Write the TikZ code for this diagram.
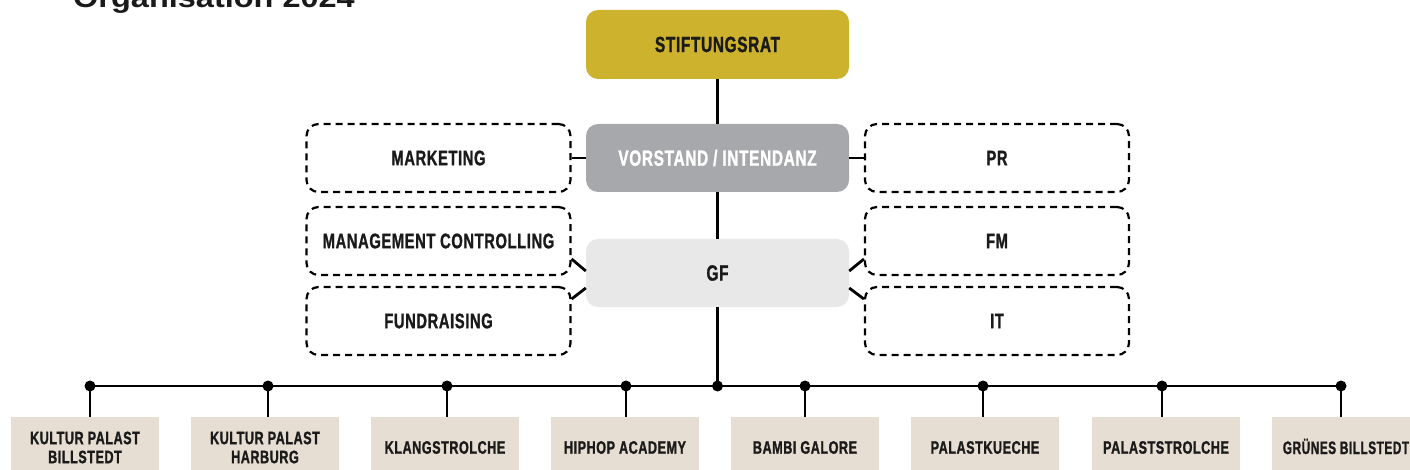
\documentclass[tikz,border=0pt]{standalone}
\usepackage{fontspec}
\newfontfamily\labelfont[FakeStretch=0.70,FakeBold=1.2,LetterSpace=3]{Liberation Sans}
\newfontfamily\titlefont{Liberation Sans}
\definecolor{goldbox}{HTML}{CDB22E}
\definecolor{greybox}{HTML}{A7A8AB}
\definecolor{lightbox}{HTML}{E8E8E8}
\definecolor{beigebox}{HTML}{E6DED2}
\definecolor{textdark}{HTML}{1A1A1A}
\begin{document}
\begin{tikzpicture}[x=1pt,y=-1pt,
  boxbase/.style={rounded corners=12pt, minimum width=263pt, minimum height=68pt, inner sep=0pt,
    font=\labelfont\bfseries\fontsize{22}{24}\selectfont, text=textdark},
  goldnode/.style={boxbase, fill=goldbox, minimum height=69pt},
  greynode/.style={boxbase, fill=greybox, text=white},
  lightnode/.style={boxbase, fill=lightbox},
  sidebox/.style={boxbase, draw=black, line width=2.2pt, dash pattern=on 7pt off 5pt,
    minimum width=264pt, font=\labelfont\bfseries\fontsize{21}{23}\selectfont},
  unitbox/.style={fill=beigebox, minimum width=148pt, minimum height=61pt, inner sep=0pt,
    align=center, font=\labelfont\bfseries\fontsize{18}{19}\selectfont, text=textdark},
  link/.style={line width=2.8pt, draw=black},
  dotnode/.style={circle, fill=black, inner sep=0pt, minimum size=11pt}]
\useasboundingbox (0,0) rectangle (1410,470);
\clip (0,0) rectangle (1410,470);

% title
\node[anchor=base west, inner sep=0pt, font=\titlefont\bfseries\fontsize{28}{30}\selectfont, text=textdark]
  (title) at (73,8) {\scalebox{1.16}[1]{Organisation 2024}};

% central column
\node[goldnode] (stift) at (717.5,44.5) {STIFTUNGSRAT};
\node[greynode] (vorst) at (717.5,158) {VORSTAND / INTENDANZ};
\node[lightnode] (gf) at (717.5,273) {GF};

% side boxes
\node[sidebox] (mkt) at (438.5,158) {MARKETING};
\node[sidebox] (mc) at (438.5,241) {MANAGEMENT CONTROLLING};
\node[sidebox] (fund) at (438.5,321) {FUNDRAISING};
\node[sidebox] (pr) at (997,158) {PR};
\node[sidebox] (fm) at (997,241) {FM};
\node[sidebox] (it) at (997,321) {IT};

% units
\node[unitbox] (u1) at (85,447.5) {KULTUR PALAST\\BILLSTEDT};
\node[unitbox] (u2) at (265,447.5) {KULTUR PALAST\\HARBURG};
\node[unitbox] (u3) at (445,447.5) {KLANGSTROLCHE};
\node[unitbox] (u4) at (625,447.5) {HIPHOP ACADEMY};
\node[unitbox] (u5) at (805,447.5) {BAMBI GALORE};
\node[unitbox] (u6) at (985,447.5) {PALASTKUECHE};
\node[unitbox] (u7) at (1166,447.5) {PALASTSTROLCHE};
\node[unitbox, text height=13pt, text depth=0pt] (u8) at (1346,447.5) {\scalebox{0.94}[1]{GRÜNES BILLSTEDT}};

% dots on the bus
\node[dotnode] (d1) at (90,386) {};
\node[dotnode] (d2) at (268,386) {};
\node[dotnode] (d3) at (447,386) {};
\node[dotnode] (d4) at (626,386) {};
\node[dotnode] (hub) at (717.5,386) {};
\node[dotnode] (d5) at (805,386) {};
\node[dotnode] (d6) at (983,386) {};
\node[dotnode] (d7) at (1162,386) {};
\node[dotnode] (d8) at (1341,386) {};

% connectors
\draw[link] (stift) -- (vorst);
\draw[link] (vorst) -- (gf);
\draw[link] (gf) -- (hub.center);
\draw[link] (mkt) -- (vorst);
\draw[link] (pr) -- (vorst);
\draw[link] ([yshift=2pt]gf.west) -- ([yshift=-18pt]mc.east);
\draw[link] ([yshift=-15pt]gf.west) -- ([yshift=22pt]fund.east);
\draw[link] ([yshift=2pt]gf.east) -- ([yshift=-18pt]fm.west);
\draw[link] ([yshift=-15pt]gf.east) -- ([yshift=22pt]it.west);
\draw[link] (d1.center) -- (d8.center);
\foreach \d/\u in {d1/u1,d2/u2,d3/u3,d4/u4,d5/u5,d6/u6,d7/u7,d8/u8}{
  \draw[link] (\d.center) -- (\d |- \u.north);
}
\end{tikzpicture}
\end{document}
